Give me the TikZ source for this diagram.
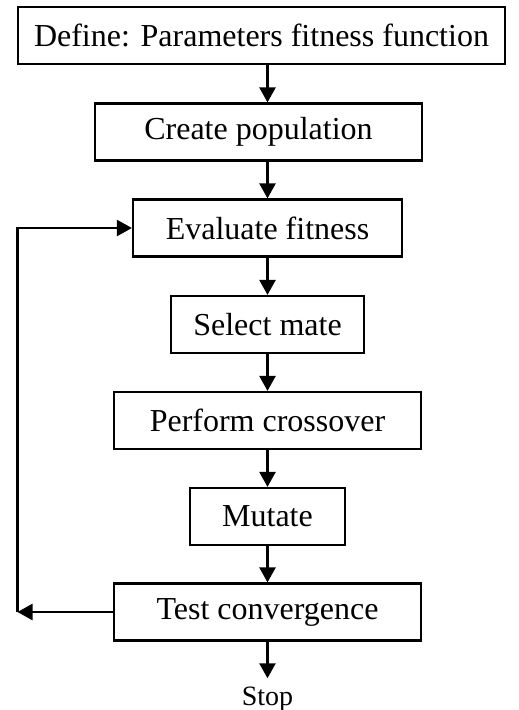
\documentclass[tikz,border=0pt]{standalone}
\usepackage{fontspec}
\setmainfont{Liberation Serif}
\usepackage{tikz}
\usetikzlibrary{calc,arrows.meta}
\tikzset{
  ar/.style={-{Triangle[length=15pt,width=16pt]},line width=2.4pt,black},
  box/.style={draw=black,line width=2.2pt,inner sep=0pt,minimum height=57pt,
    font=\fontsize{32}{36}\selectfont}
}
\begin{document}
\begin{tikzpicture}[x=1pt,y=-1pt]
\useasboundingbox (0,0) rectangle (519,710);
\coordinate (ax) at (267.5,0);
\node[box,minimum width=487pt] (def) at (261.5,35.5) {Define: Parameters fitness function};
\node[box,minimum width=327pt] (cp) at (258.5,132) {Create population};
\node[box,minimum width=269pt] (ef) at (267.5,228) {Evaluate fitness};
\node[box,minimum width=193pt] (sm) at (267.5,324.5) {Select mate};
\node[box,minimum width=307pt] (pc) at (267.5,420.5) {Perform crossover};
\node[box,minimum width=155pt] (mu) at (267.5,516.5) {Mutate};
\node[box,minimum width=307pt] (tc) at (267.5,612) {Test convergence};
\node[font=\fontsize{28}{32}\selectfont,inner sep=8pt,anchor=base] (stop) at (267.5,705) {Stop};
% main chain
\draw[ar] (def.south -| ax) -- (cp.north -| ax);
\draw[ar] (cp.south -| ax) -- (ef.north);
\draw[ar] (ef) -- (sm);
\draw[ar] (sm) -- (pc);
\draw[ar] (pc) -- (mu);
\draw[ar] (mu) -- (tc);
\draw[ar] (tc) -- (stop);
% loop back
\coordinate (lp) at (17.5,612);
\draw[ar] (tc.west) -- (lp);
\draw[ar] (lp) |- (ef.west);
\end{tikzpicture}
\end{document}
